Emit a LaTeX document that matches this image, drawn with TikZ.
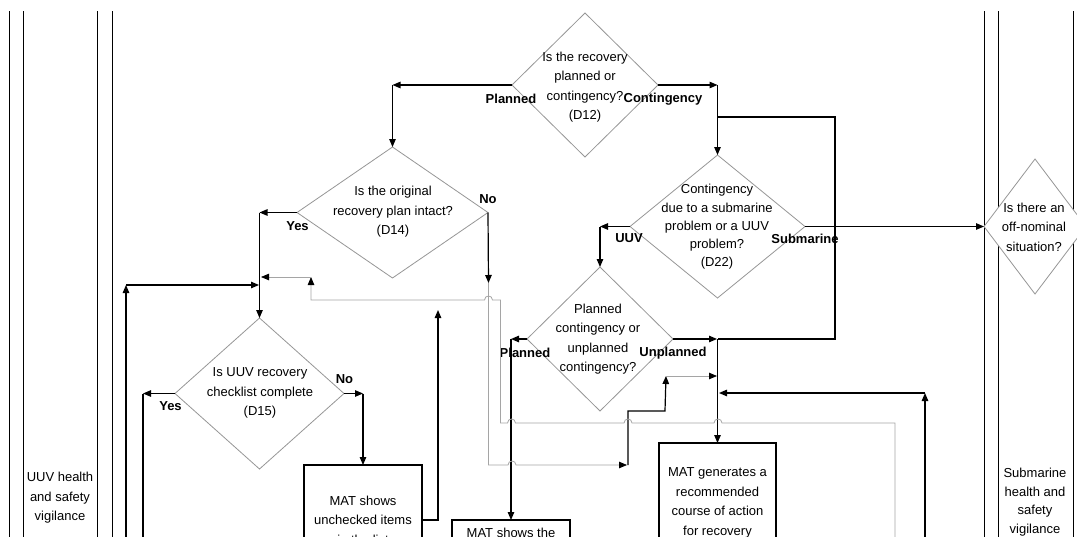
\documentclass[tikz,border=0pt]{standalone}
\usepackage{fontspec}
\setmainfont{Liberation Sans}
\usetikzlibrary{arrows.meta,shapes.geometric}
\definecolor{diagray}{RGB}{150,150,150}
\definecolor{backgray}{RGB}{165,165,165}
\begin{document}
\begin{tikzpicture}[x=1pt,y=-1pt,
  lane/.style={draw=black,line width=1pt},
  dia/.style={diamond,draw=diagray,line width=0.8pt,fill=white,inner sep=0pt,outer sep=0pt},
  txt/.style={align=center,inner sep=0pt,font=\fontsize{13}{19.5}\selectfont},
  lbl/.style={inner sep=0pt,font=\bfseries\fontsize{13}{15.6}\selectfont},
  proc/.style={rectangle,draw=black,line width=1.3pt,fill=white,align=center,
    inner sep=0pt,outer sep=0pt,font=\fontsize{13}{19.5}\selectfont},
  flow/.style={draw=black,line width=1.2pt},
  arr/.style={flow,-{Triangle[length=8pt,width=6.5pt]}},
  back/.style={draw=backgray,line width=0.8pt},
  barr/.style={back,-{Triangle[length=8pt,width=6.5pt,color=black]}}]
\useasboundingbox (0,0) rectangle (1077,536);
\clip (0,0) rectangle (1077,536);

% swimlane borders
\foreach \lx in {9,23,97,112,984,998,1073}
  \draw[lane] (\lx,11) -- (\lx,540);
\node[txt] (lanel) at (60,498) {UUV health\\and safety\\vigilance};
\node[txt,font=\fontsize{13}{18.7}\selectfont] (laner) at (1035,502) {Submarine\\health and\\safety\\vigilance};

% decisions
\node[dia,minimum width=146pt,minimum height=144pt] (d12) at (585,85) {};
\node[txt] (d12t) at (585,87) {Is the recovery\\planned or\\contingency?\\(D12)};
\node[dia,minimum width=191pt,minimum height=131pt] (d14) at (392.5,212.5) {};
\node[txt] (d14t) at (393,212) {Is the original\\recovery plan intact?\\(D14)};
\node[dia,minimum width=175pt,minimum height=143pt] (d22) at (717.5,226.5) {};
\node[txt,font=\fontsize{13}{18.3}\selectfont] (d22t) at (717,227) {Contingency\\due to a submarine\\problem or a UUV\\problem?\\(D22)};
\node[dia,minimum width=146pt,minimum height=144pt] (dpl) at (600,339) {};
\node[txt] (dplt) at (598,339) {Planned\\contingency or\\unplanned\\contingency?};
\node[dia,minimum width=169pt,minimum height=151pt] (d15) at (259.5,393.5) {};
\node[txt] (d15t) at (260,393) {Is UUV recovery\\checklist complete\\(D15)};
\node[dia,minimum width=102pt,minimum height=135pt] (off) at (1035,226.5) {};
\node[txt] (offt) at (1034,227) {Is there an\\off-nominal\\situation?};

% processes
\node[proc,minimum width=118pt,minimum height=110pt] (box1) at (363,520) {MAT shows\\unchecked items\\in the list};
\node[proc,minimum width=118pt,minimum height=26pt] (box2) at (511,533) {MAT shows the};
\node[proc,minimum width=117pt,minimum height=119.5pt] (box3) at (717.5,502.75) {MAT generates a\\recommended\\course of action\\for recovery};

% branch labels
\node[lbl] (l12a) at (511,99) {Planned};
\node[lbl] (l12b) at (663,99) {Contingency};
\node[lbl] (l14a) at (297.5,226) {Yes};
\node[lbl] (l14b) at (488,199) {No};
\node[lbl] (l22a) at (629,238) {UUV};
\node[lbl] (l22b) at (805,239) {Submarine};
\node[lbl] (lpla) at (525,353) {Planned};
\node[lbl] (lplb) at (673,353) {Unplanned};
\node[lbl] (l15a) at (170.5,406) {Yes};
\node[lbl] (l15b) at (344.5,379) {No};

% bend and junction points
\coordinate (k12a) at (d12.west -| d14.north);
\coordinate (k12b) at (d12.east -| d22.north);
\coordinate (kloop) at (717.5,117);
\coordinate (k14a) at (d14.west -| d15.north);
\coordinate (k14b) at (488.5,283);
\coordinate (k22a) at (d22.west -| dpl.north);
\coordinate (kpla) at (dpl.west -| box2.north);
\coordinate (kplb) at (dpl.east -| box3.north);
\coordinate (k15a) at (143,393.5);
\coordinate (k15b) at (d15.east -| box1.north);
\coordinate (kb1) at (438,310);
\coordinate (kup) at (628,465);
\coordinate (kst) at (666,376);
\coordinate (kin) at (717,376);
\coordinate (kr) at (925,393);
\coordinate (krb) at (925,540);
\coordinate (kl) at (126,285);
\coordinate (klb) at (126,540);
\coordinate (kret) at (311,277);
\coordinate (kgb) at (895,540);

% main flow
\draw[arr] (d12.west) -- (k12a);
\draw[arr] (k12a) -- (d14.north);
\draw[arr] (d12.east) -- (k12b);
\draw[arr] (k12b) -- (d22.north);
\draw[flow] (kloop) -- (835,117) -- (835,339) -- (kplb);
\draw[arr] (d14.west) -- (k14a);
\draw[arr] (k14a) -- (d15.north);
\draw[arr] (d14.east) -- (k14b);
\draw[arr] (d22.west) -- (k22a);
\draw[arr] (k22a) -- (dpl.north);
\draw[arr] (d22.east) -- (off.west);
\draw[arr] (dpl.west) -- (kpla);
\draw[arr] (kpla) -- (box2.north);
\draw[arr] (dpl.east) -- ([xshift=-0.5pt]kplb);
\draw[arr] (kplb) -- (box3.north);
\draw[arr] (d15.west) -- (k15a);
\draw[flow] (k15a) -- (143,540);
\draw[arr] (d15.east) -- (k15b);
\draw[arr] (k15b) -- (box1.north);
\draw[arr] (box1.east) -| (kb1);
\draw[arr] (krb) -- (kr);
\draw[arr] (kr) -- (719,393);
\draw[arr] (klb) -- (kl);
\draw[arr] (kl) -- (259,285);

% lower loop through the unplanned branch
\draw[barr] (k14b) -- (488.5,465) -- (508,465)
  .. controls (508,459.7) and (516,459.7) .. (516,465) -- (627,465);
\draw[arr] (kup) -- (628,411) -- (665,411) -- (kst);
\draw[barr] (kst) -- (kin);

% return line to the top of the checklist decision
\draw[barr] (kgb) -- (895,423) -- (722,423)
  .. controls (722,417.7) and (714,417.7) .. (714,423) -- (632,423)
  .. controls (632,417.7) and (624,417.7) .. (624,423) -- (515.5,423)
  .. controls (515.5,417.7) and (507.5,417.7) .. (507.5,423) -- (500.5,423)
  -- (500.5,300) -- (492.5,300)
  .. controls (492.5,294.7) and (484.5,294.7) .. (484.5,300) -- (311,300) -- (kret);
\draw[barr] (kret) -- (261,277);
\end{tikzpicture}
\end{document}
